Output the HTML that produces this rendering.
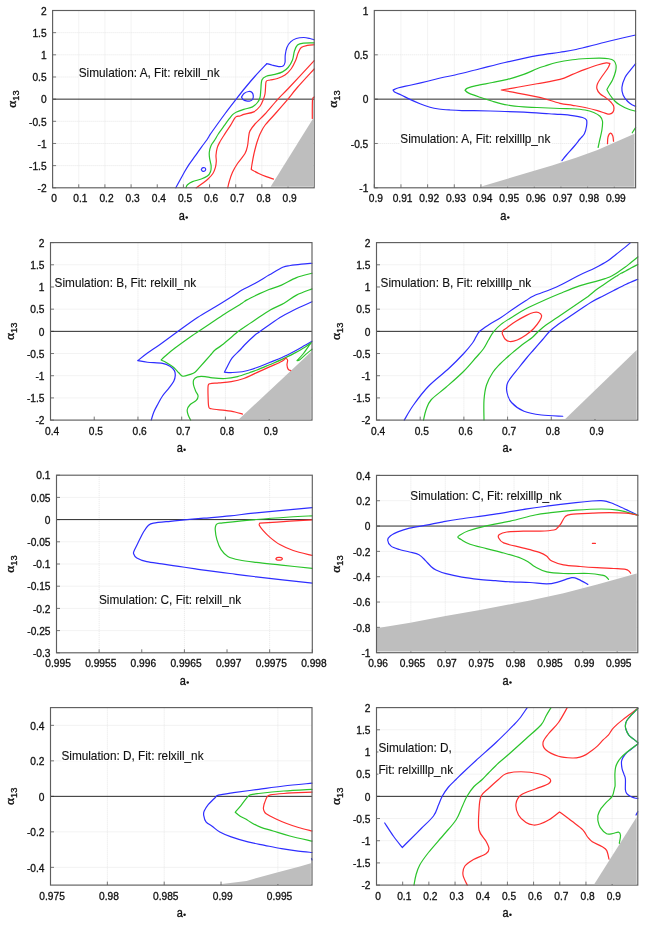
<!DOCTYPE html>
<html><head><meta charset="utf-8"><style>
html,body{margin:0;padding:0;background:#fff;}
svg{display:block;will-change:transform;}
text{font-family:"Liberation Sans",sans-serif;fill:#111;stroke:#111;stroke-width:0.3px;}
.tl{font-size:10.2px;}
.al{font-size:11px;}
.an{font-size:11.8px;stroke-width:0.12px;}
text .sf{font-family:"Liberation Serif",serif;}
.sfa{font-size:11px;}
.gr{stroke:#e6e6e6;stroke-width:1;stroke-dasharray:1 1;}
.zl{stroke:#2a2a2a;stroke-width:1;}
.tk{stroke:#777;stroke-width:1;}
.fr{fill:none;stroke:#5e5e5e;stroke-width:1.15;}
path{fill:none;stroke-width:1.2;stroke-linejoin:round;stroke-linecap:round;}
.cb{stroke:#2e2eff;} .cg{stroke:#2bc42b;} .cr{stroke:#ff2e2e;}
</style></head><body>
<svg width="656" height="928" viewBox="0 0 656 928">
<rect width="656" height="928" fill="#fff"/>
<line x1="78.76" y1="10.5" x2="78.76" y2="187.8" class="gr"/>
<line x1="104.92" y1="10.5" x2="104.92" y2="187.8" class="gr"/>
<line x1="131.08" y1="10.5" x2="131.08" y2="187.8" class="gr"/>
<line x1="183.4" y1="10.5" x2="183.4" y2="187.8" class="gr"/>
<line x1="209.56" y1="10.5" x2="209.56" y2="187.8" class="gr"/>
<line x1="235.72" y1="10.5" x2="235.72" y2="187.8" class="gr"/>
<line x1="261.88" y1="10.5" x2="261.88" y2="187.8" class="gr"/>
<line x1="288.04" y1="10.5" x2="288.04" y2="187.8" class="gr"/>
<line x1="52.6" y1="32.66" x2="314.2" y2="32.66" class="gr"/>
<line x1="52.6" y1="54.82" x2="314.2" y2="54.82" class="gr"/>
<line x1="52.6" y1="76.99" x2="314.2" y2="76.99" class="gr"/>
<line x1="52.6" y1="121.31" x2="314.2" y2="121.31" class="gr"/>
<line x1="52.6" y1="143.48" x2="314.2" y2="143.48" class="gr"/>
<line x1="52.6" y1="165.64" x2="314.2" y2="165.64" class="gr"/>
<line x1="52.6" y1="187.8" x2="52.6" y2="184.3" class="tk"/>
<line x1="78.76" y1="187.8" x2="78.76" y2="184.3" class="tk"/>
<line x1="104.92" y1="187.8" x2="104.92" y2="184.3" class="tk"/>
<line x1="131.08" y1="187.8" x2="131.08" y2="184.3" class="tk"/>
<line x1="157.24" y1="187.8" x2="157.24" y2="184.3" class="tk"/>
<line x1="183.4" y1="187.8" x2="183.4" y2="184.3" class="tk"/>
<line x1="209.56" y1="187.8" x2="209.56" y2="184.3" class="tk"/>
<line x1="235.72" y1="187.8" x2="235.72" y2="184.3" class="tk"/>
<line x1="261.88" y1="187.8" x2="261.88" y2="184.3" class="tk"/>
<line x1="288.04" y1="187.8" x2="288.04" y2="184.3" class="tk"/>
<line x1="52.6" y1="10.5" x2="56.1" y2="10.5" class="tk"/>
<line x1="52.6" y1="32.66" x2="56.1" y2="32.66" class="tk"/>
<line x1="52.6" y1="54.82" x2="56.1" y2="54.82" class="tk"/>
<line x1="52.6" y1="76.99" x2="56.1" y2="76.99" class="tk"/>
<line x1="52.6" y1="99.15" x2="56.1" y2="99.15" class="tk"/>
<line x1="52.6" y1="121.31" x2="56.1" y2="121.31" class="tk"/>
<line x1="52.6" y1="143.48" x2="56.1" y2="143.48" class="tk"/>
<line x1="52.6" y1="165.64" x2="56.1" y2="165.64" class="tk"/>
<line x1="52.6" y1="187.8" x2="56.1" y2="187.8" class="tk"/>
<rect x="78.7" y="75.3" width="141.3" height="2.6" fill="#fff"/>
<polygon points="270.6,186.7 313.1,118.5 313.1,186.7" fill="#bebebe"/>
<line x1="52.6" y1="99.15" x2="314.2" y2="99.15" class="zl"/>
<path d="M175.8,187.8 C176.6,186.33 179.18,181.58 180.6,179 C182.02,176.42 182.88,174.73 184.3,172.3 C185.72,169.87 187.28,167.13 189.1,164.4 C190.92,161.67 193.17,158.75 195.2,155.9 C197.23,153.05 199.37,149.95 201.3,147.3 C203.23,144.65 205.48,141.88 206.8,140 C208.12,138.12 208.3,137.42 209.2,136 C210.1,134.58 209.57,135.21 212.2,131.5 C214.83,127.79 220.99,119.15 225,113.75 C229.01,108.35 232.92,103.39 236.25,99.1 C239.58,94.81 241.88,91.81 245,88 C248.12,84.19 251.35,80.33 255,76.25 C258.65,72.17 264.92,65.62 266.9,63.5 C267.83,63.79 270.52,64.73 272.5,65.25 C274.48,65.77 276.98,66.47 278.75,66.6 C280.52,66.72 282.06,66.68 283.1,66 C284.14,65.32 284.64,64.33 285,62.5 C285.36,60.67 284.93,57.5 285.25,55 C285.57,52.5 286.01,49.68 286.9,47.5 C287.79,45.32 289.04,43.4 290.6,41.9 C292.16,40.4 294.06,39.23 296.25,38.5 C298.44,37.77 301.46,37.5 303.75,37.5 C306.04,37.5 308.26,38.12 310,38.5 C311.74,38.88 313.5,39.54 314.2,39.75" class="cb"/>
<path d="M241.5,97.1 C241.92,96.5 242.79,94.43 244,93.5 C245.21,92.57 247.42,91.67 248.75,91.5 C250.08,91.33 251.24,91.77 252,92.5 C252.76,93.23 253.22,94.73 253.3,95.9 C253.38,97.07 253.05,98.65 252.5,99.5 C251.95,100.35 251.04,100.77 250,101 C248.96,101.23 247.42,101.15 246.25,100.9 C245.08,100.65 243.79,100.13 243,99.5 C242.21,98.87 241.75,97.5 241.5,97.1" class="cb"/>
<path d="M201.3,169.6 C201.5,169.32 201.95,168.2 202.5,167.9 C203.05,167.6 204.07,167.58 204.6,167.8 C205.13,168.02 205.68,168.67 205.7,169.2 C205.72,169.73 205.23,170.68 204.7,171 C204.17,171.32 203.07,171.33 202.5,171.1 C201.93,170.87 201.5,169.85 201.3,169.6" class="cb"/>
<path d="M186,187.8 C186.25,187.29 186.42,185.78 187.5,184.75 C188.58,183.72 190.2,182.56 192.5,181.6 C194.8,180.64 198.82,179.93 201.3,179 C203.78,178.07 205.87,177.22 207.4,176 C208.93,174.78 209.88,173.43 210.5,171.7 C211.12,169.97 211.25,167.83 211.1,165.6 C210.95,163.37 209.9,160.53 209.6,158.3 C209.3,156.07 209.05,154.33 209.3,152.2 C209.55,150.07 210.19,147.53 211.1,145.5 C212.01,143.47 213.55,141.92 214.75,140 C215.95,138.08 216.69,136.43 218.3,134 C219.91,131.57 222.57,127.95 224.4,125.4 C226.23,122.85 227.88,120.53 229.3,118.7 C230.72,116.87 231.68,115.52 232.9,114.4 C234.12,113.28 234.79,112.83 236.6,112 C238.41,111.17 241.1,110.25 243.75,109.4 C246.4,108.55 250.21,108.05 252.5,106.9 C254.79,105.75 256.25,104.07 257.5,102.5 C258.75,100.93 259.45,99.58 260,97.5 C260.55,95.42 260.48,92.92 260.8,90 C261.12,87.08 260.99,82.29 261.9,80 C262.81,77.71 264.07,77.18 266.25,76.25 C268.43,75.32 272.29,75.12 275,74.4 C277.71,73.68 280.32,73.05 282.5,71.9 C284.68,70.75 286.43,69.48 288.1,67.5 C289.77,65.52 291.45,62.71 292.5,60 C293.55,57.29 293.57,53.75 294.4,51.25 C295.23,48.75 295.94,46.36 297.5,45 C299.06,43.64 300.97,43.45 303.75,43.1 C306.53,42.75 312.46,42.93 314.2,42.9" class="cg"/>
<path d="M196.25,187.8 C197.38,187 201.04,184.47 203,183 C204.96,181.53 206.35,180.58 208,179 C209.65,177.42 211.67,175.43 212.9,173.5 C214.13,171.57 214.83,169.43 215.4,167.4 C215.97,165.37 216.2,163.33 216.3,161.3 C216.4,159.27 215.85,157.43 216,155.2 C216.15,152.97 216.6,150.03 217.2,147.9 C217.8,145.77 218.4,144.62 219.6,142.4 C220.8,140.18 222.58,137.43 224.4,134.6 C226.22,131.77 228.78,128.15 230.5,125.4 C232.22,122.65 233.67,119.6 234.75,118.1 C235.83,116.6 236.12,116.75 237,116.4 C237.88,116.05 238.88,116.33 240,116 C241.12,115.67 241.46,115.08 243.75,114.4 C246.04,113.72 251.04,113.26 253.75,111.9 C256.46,110.54 258.44,108.23 260,106.25 C261.56,104.27 262.27,102.04 263.1,100 C263.93,97.96 264.6,96 265,94 C265.4,92 265.29,90.12 265.5,88 C265.71,85.88 265.5,82.58 266.25,81.25 C267,79.92 268.12,80.46 270,80 C271.88,79.54 275,79.33 277.5,78.5 C280,77.67 282.71,76.62 285,75 C287.29,73.38 289.48,71.15 291.25,68.75 C293.02,66.35 294.46,63.21 295.6,60.6 C296.74,57.99 297.16,55.28 298.1,53.1 C299.04,50.92 299.68,48.78 301.25,47.5 C302.82,46.22 305.34,45.86 307.5,45.4 C309.66,44.94 313.08,44.86 314.2,44.75" class="cr"/>
<path d="M227.75,187.8 C228.03,186.67 228.61,183.59 229.4,181 C230.19,178.41 231.15,175.17 232.5,172.25 C233.85,169.33 235.42,166.62 237.5,163.5 C239.58,160.38 243.33,156.42 245,153.5 C246.67,150.58 246.88,148.92 247.5,146 C248.12,143.08 248.33,138.52 248.75,136 C249.17,133.48 248.96,132.9 250,130.9 C251.04,128.9 252.5,126.82 255,124 C257.5,121.18 261.25,118.07 265,114 C268.75,109.93 273.54,103.93 277.5,99.6 C281.46,95.27 282.63,94.5 288.75,88 C294.87,81.5 309.96,65.17 314.2,60.6" class="cr"/>
<path d="M273.5,179.1 C272.29,178.68 268.71,177.53 266.25,176.6 C263.79,175.67 261.25,174.68 258.75,173.5 C256.25,172.32 252.5,170.17 251.25,169.5 C251.36,168.71 251.48,167.21 251.9,164.75 C252.32,162.29 253.03,158.08 253.75,154.75 C254.47,151.42 255.53,147.38 256.25,144.75 C256.98,142.12 257.38,141 258.1,139 C258.83,137 259.45,135.04 260.6,132.75 C261.75,130.46 262.6,128.38 265,125.25 C267.4,122.12 271.25,118.28 275,114 C278.75,109.72 283.85,103.93 287.5,99.6 C291.15,95.27 292.45,93.1 296.9,88 C301.35,82.9 311.32,72.17 314.2,69" class="cr"/>
<path d="M314.2,97 C313.92,97.5 312.82,96.43 312.5,100 C312.18,103.57 312.33,115.33 312.3,118.4" class="cr"/>
<text x="54.2" y="202.2" class="tl" text-anchor="middle">0</text>
<text x="80.36" y="202.2" class="tl" text-anchor="middle">0.1</text>
<text x="106.52" y="202.2" class="tl" text-anchor="middle">0.2</text>
<text x="132.68" y="202.2" class="tl" text-anchor="middle">0.3</text>
<text x="158.84" y="202.2" class="tl" text-anchor="middle">0.4</text>
<text x="185" y="202.2" class="tl" text-anchor="middle">0.5</text>
<text x="211.16" y="202.2" class="tl" text-anchor="middle">0.6</text>
<text x="237.32" y="202.2" class="tl" text-anchor="middle">0.7</text>
<text x="263.48" y="202.2" class="tl" text-anchor="middle">0.8</text>
<text x="289.64" y="202.2" class="tl" text-anchor="middle">0.9</text>
<text x="46.6" y="14.7" class="tl" text-anchor="end">2</text>
<text x="46.6" y="36.86" class="tl" text-anchor="end">1.5</text>
<text x="46.6" y="59.02" class="tl" text-anchor="end">1</text>
<text x="46.6" y="81.19" class="tl" text-anchor="end">0.5</text>
<text x="46.6" y="103.35" class="tl" text-anchor="end">0</text>
<text x="46.6" y="125.51" class="tl" text-anchor="end">-0.5</text>
<text x="46.6" y="147.68" class="tl" text-anchor="end">-1</text>
<text x="46.6" y="169.84" class="tl" text-anchor="end">-1.5</text>
<text x="46.6" y="192" class="tl" text-anchor="end">-2</text>
<rect x="52.6" y="10.5" width="261.6" height="177.3" class="fr"/>
<text transform="translate(78.7,76.6) scale(1,1.1)" class="an">Simulation: A, Fit: relxill_nk</text>
<text transform="translate(178.8,220.1) scale(1,1.12)" class="al sfa">a</text>
<circle cx="186.7" cy="217.5" r="1.25" fill="#111"/>
<text transform="translate(15.8,99.15) rotate(-90)" class="al" text-anchor="middle"><tspan font-size="13.5" class="sf">&#945;</tspan><tspan font-size="9.3" dy="3.3">13</tspan></text>
<line x1="400.96" y1="10.5" x2="400.96" y2="187.8" class="gr"/>
<line x1="427.63" y1="10.5" x2="427.63" y2="187.8" class="gr"/>
<line x1="454.29" y1="10.5" x2="454.29" y2="187.8" class="gr"/>
<line x1="480.95" y1="10.5" x2="480.95" y2="187.8" class="gr"/>
<line x1="507.62" y1="10.5" x2="507.62" y2="187.8" class="gr"/>
<line x1="534.28" y1="10.5" x2="534.28" y2="187.8" class="gr"/>
<line x1="560.94" y1="10.5" x2="560.94" y2="187.8" class="gr"/>
<line x1="587.61" y1="10.5" x2="587.61" y2="187.8" class="gr"/>
<line x1="614.27" y1="10.5" x2="614.27" y2="187.8" class="gr"/>
<line x1="374.3" y1="54.82" x2="635.6" y2="54.82" class="gr"/>
<line x1="374.3" y1="143.48" x2="635.6" y2="143.48" class="gr"/>
<line x1="374.3" y1="187.8" x2="374.3" y2="184.3" class="tk"/>
<line x1="400.96" y1="187.8" x2="400.96" y2="184.3" class="tk"/>
<line x1="427.63" y1="187.8" x2="427.63" y2="184.3" class="tk"/>
<line x1="454.29" y1="187.8" x2="454.29" y2="184.3" class="tk"/>
<line x1="480.95" y1="187.8" x2="480.95" y2="184.3" class="tk"/>
<line x1="507.62" y1="187.8" x2="507.62" y2="184.3" class="tk"/>
<line x1="534.28" y1="187.8" x2="534.28" y2="184.3" class="tk"/>
<line x1="560.94" y1="187.8" x2="560.94" y2="184.3" class="tk"/>
<line x1="587.61" y1="187.8" x2="587.61" y2="184.3" class="tk"/>
<line x1="614.27" y1="187.8" x2="614.27" y2="184.3" class="tk"/>
<line x1="374.3" y1="10.5" x2="377.8" y2="10.5" class="tk"/>
<line x1="374.3" y1="54.82" x2="377.8" y2="54.82" class="tk"/>
<line x1="374.3" y1="99.15" x2="377.8" y2="99.15" class="tk"/>
<line x1="374.3" y1="143.48" x2="377.8" y2="143.48" class="tk"/>
<line x1="374.3" y1="187.8" x2="377.8" y2="187.8" class="tk"/>
<rect x="400.3" y="141.9" width="151.2" height="2.6" fill="#fff"/>
<polygon points="480.6,186.7 507.5,178.75 535,170.6 552,165.6 576,157.8 597.5,150 616.25,141.8 634.5,133.75 634.5,186.7" fill="#bebebe"/>
<line x1="374.3" y1="99.15" x2="635.6" y2="99.15" class="zl"/>
<path d="M562,160.5 C562.75,159.58 564.5,157.33 566.5,155 C568.5,152.67 571.75,149.17 574,146.5 C576.25,143.83 578.27,141.12 580,139 C581.73,136.88 583.32,135.88 584.4,133.75 C585.48,131.62 586.15,128.54 586.5,126.25 C586.85,123.96 587.17,121.46 586.5,120 C585.83,118.54 584.83,118.23 582.5,117.5 C580.17,116.77 576.25,116.12 572.5,115.6 C568.75,115.08 563.92,114.71 560,114.4 C556.08,114.09 555,114.12 549,113.75 C543,113.38 532.33,112.62 524,112.2 C515.67,111.78 507.33,111.5 499,111.25 C490.67,111 480.17,110.81 474,110.7 C467.83,110.59 466,110.72 462,110.6 C458,110.48 453.88,110.27 450,110 C446.12,109.73 442.08,109.46 438.75,109 C435.42,108.54 433.12,108.12 430,107.25 C426.88,106.38 423.33,105.06 420,103.75 C416.67,102.44 413.12,100.86 410,99.4 C406.88,97.94 403.75,96.19 401.25,95 C398.75,93.81 396.36,93.08 395,92.25 C393.64,91.42 393.42,90.38 393.1,90 C394.04,89.62 395.73,88.58 398.75,87.75 C401.77,86.92 406.46,86.08 411.25,85 C416.04,83.92 422.29,82.5 427.5,81.25 C432.71,80 437.92,78.54 442.5,77.5 C447.08,76.46 448.75,76.46 455,75 C461.25,73.54 471.67,70.83 480,68.75 C488.33,66.67 495.5,64.69 505,62.5 C514.5,60.31 527.83,57.31 537,55.6 C546.17,53.89 553.5,53.27 560,52.25 C566.5,51.23 569.5,50.92 576,49.5 C582.5,48.08 592.67,45.33 599,43.75 C605.33,42.17 607.9,41.46 614,40 C620.1,38.54 632,35.83 635.6,35" class="cb"/>
<path d="M635.6,63.75 C634.67,64.89 631.77,68.31 630,70.6 C628.23,72.89 626.35,74.68 625,77.5 C623.65,80.32 622.22,84.58 621.9,87.5 C621.58,90.42 622.17,92.71 623.1,95 C624.03,97.29 625.93,99.58 627.5,101.25 C629.07,102.92 631.15,104.17 632.5,105 C633.85,105.83 635.08,106.04 635.6,106.25" class="cb"/>
<path d="M598.1,147.5 C598.42,146.04 599.37,141.67 600,138.75 C600.63,135.83 601.48,132.92 601.9,130 C602.32,127.08 602.82,123.54 602.5,121.25 C602.18,118.96 601.46,117.71 600,116.25 C598.54,114.79 596.25,113.54 593.75,112.5 C591.25,111.46 588.54,110.62 585,110 C581.46,109.38 576.67,109 572.5,108.75 C568.33,108.5 565.92,108.71 560,108.5 C554.08,108.29 543.04,107.77 537,107.5 C530.96,107.23 528.67,107.32 523.75,106.9 C518.83,106.48 512.71,105.94 507.5,105 C502.29,104.06 497.08,102.54 492.5,101.25 C487.92,99.96 483.96,98.61 480,97.25 C476.04,95.89 471.25,94.27 468.75,93.1 C466.25,91.93 465.62,90.72 465,90.25 C465.42,89.89 465.62,88.88 467.5,88.1 C469.38,87.32 472.08,86.53 476.25,85.6 C480.42,84.67 487.29,83.53 492.5,82.5 C497.71,81.47 502.29,80.75 507.5,79.4 C512.71,78.05 518.83,76.18 523.75,74.4 C528.67,72.62 533.46,70.15 537,68.75 C540.54,67.35 541.75,67.04 545,66 C548.25,64.96 551.92,63.54 556.5,62.5 C561.08,61.46 567.33,60.42 572.5,59.75 C577.67,59.08 582.92,58.77 587.5,58.5 C592.08,58.23 596.46,58.06 600,58.1 C603.54,58.14 606.46,58.33 608.75,58.75 C611.04,59.17 612.54,59.56 613.75,60.6 C614.96,61.64 615.69,63.23 616,65 C616.31,66.78 616.18,68.75 615.6,71.25 C615.02,73.75 613.64,77.5 612.5,80 C611.36,82.5 609.68,84.62 608.75,86.25 C607.82,87.88 607.21,89.17 606.9,89.75 C607.42,90.62 608.65,93.08 610,95 C611.35,96.92 613.33,99.58 615,101.25 C616.67,102.92 617.92,103.75 620,105 C622.08,106.25 624.9,107.71 627.5,108.75 C630.1,109.79 634.25,110.83 635.6,111.25" class="cg"/>
<path d="M632.25,132.75 C632.81,131.88 635.04,128.38 635.6,127.5" class="cg"/>
<path d="M501.25,90 C503.96,89.54 511.54,88.29 517.5,87.25 C523.46,86.21 529.92,85.06 537,83.75 C544.08,82.44 554.08,80.96 560,79.4 C565.92,77.84 568.33,76.07 572.5,74.4 C576.67,72.73 580.83,70.97 585,69.4 C589.17,67.83 593.96,66.08 597.5,65 C601.04,63.92 604.17,63.15 606.25,62.9 C608.33,62.65 609.38,63.4 610,63.5 C609.58,64.38 608.96,66.42 607.5,68.75 C606.04,71.08 602.92,75 601.25,77.5 C599.58,80 598.23,81.88 597.5,83.75 C596.77,85.62 596.48,87.08 596.9,88.75 C597.32,90.42 598.44,92.19 600,93.75 C601.56,95.31 604.38,96.64 606.25,98.1 C608.12,99.56 610,101.1 611.25,102.5 C612.5,103.9 613.44,104.93 613.75,106.5 C614.06,108.07 613.83,110.63 613.1,111.9 C612.38,113.17 610.75,113.9 609.4,114.1 C608.05,114.3 606.98,113.68 605,113.1 C603.02,112.52 600.83,111.53 597.5,110.6 C594.17,109.67 589.17,108.38 585,107.5 C580.83,106.62 576.67,106 572.5,105.3 C568.33,104.6 564.75,104.43 560,103.3 C555.25,102.17 547.83,99.57 544,98.5 C540.17,97.43 541.42,97.8 537,96.9 C532.58,96 523.46,94.25 517.5,93.1 C511.54,91.95 503.96,90.52 501.25,90" class="cr"/>
<path d="M607.5,143.75 C607.58,142.62 607.5,138.78 608,137 C608.5,135.22 609.7,133.27 610.5,133.1 C611.3,132.93 612.3,134.64 612.8,136 C613.3,137.36 613.38,140.38 613.5,141.25" class="cr"/>
<text x="375.9" y="202.2" class="tl" text-anchor="middle">0.9</text>
<text x="402.56" y="202.2" class="tl" text-anchor="middle">0.91</text>
<text x="429.23" y="202.2" class="tl" text-anchor="middle">0.92</text>
<text x="455.89" y="202.2" class="tl" text-anchor="middle">0.93</text>
<text x="482.55" y="202.2" class="tl" text-anchor="middle">0.94</text>
<text x="509.22" y="202.2" class="tl" text-anchor="middle">0.95</text>
<text x="535.88" y="202.2" class="tl" text-anchor="middle">0.96</text>
<text x="562.54" y="202.2" class="tl" text-anchor="middle">0.97</text>
<text x="589.21" y="202.2" class="tl" text-anchor="middle">0.98</text>
<text x="615.87" y="202.2" class="tl" text-anchor="middle">0.99</text>
<text x="368.3" y="14.7" class="tl" text-anchor="end">1</text>
<text x="368.3" y="59.02" class="tl" text-anchor="end">0.5</text>
<text x="368.3" y="103.35" class="tl" text-anchor="end">0</text>
<text x="368.3" y="147.68" class="tl" text-anchor="end">-0.5</text>
<text x="368.3" y="192" class="tl" text-anchor="end">-1</text>
<rect x="374.3" y="10.5" width="261.3" height="177.3" class="fr"/>
<text transform="translate(400.3,143.2) scale(1,1.1)" class="an">Simulation: A, Fit: relxilllp_nk</text>
<text transform="translate(500.35,220.1) scale(1,1.12)" class="al sfa">a</text>
<circle cx="508.25" cy="217.5" r="1.25" fill="#111"/>
<text transform="translate(336.9,99.15) rotate(-90)" class="al" text-anchor="middle"><tspan font-size="13.5" class="sf">&#945;</tspan><tspan font-size="9.3" dy="3.3">13</tspan></text>
<line x1="137.96" y1="242.6" x2="137.96" y2="420.1" class="gr"/>
<line x1="181.69" y1="242.6" x2="181.69" y2="420.1" class="gr"/>
<line x1="225.42" y1="242.6" x2="225.42" y2="420.1" class="gr"/>
<line x1="269.15" y1="242.6" x2="269.15" y2="420.1" class="gr"/>
<line x1="50.5" y1="264.79" x2="312" y2="264.79" class="gr"/>
<line x1="50.5" y1="286.98" x2="312" y2="286.98" class="gr"/>
<line x1="50.5" y1="309.16" x2="312" y2="309.16" class="gr"/>
<line x1="50.5" y1="353.54" x2="312" y2="353.54" class="gr"/>
<line x1="50.5" y1="375.73" x2="312" y2="375.73" class="gr"/>
<line x1="50.5" y1="397.91" x2="312" y2="397.91" class="gr"/>
<line x1="50.5" y1="420.1" x2="50.5" y2="416.6" class="tk"/>
<line x1="94.23" y1="420.1" x2="94.23" y2="416.6" class="tk"/>
<line x1="137.96" y1="420.1" x2="137.96" y2="416.6" class="tk"/>
<line x1="181.69" y1="420.1" x2="181.69" y2="416.6" class="tk"/>
<line x1="225.42" y1="420.1" x2="225.42" y2="416.6" class="tk"/>
<line x1="269.15" y1="420.1" x2="269.15" y2="416.6" class="tk"/>
<line x1="50.5" y1="242.6" x2="54" y2="242.6" class="tk"/>
<line x1="50.5" y1="264.79" x2="54" y2="264.79" class="tk"/>
<line x1="50.5" y1="286.98" x2="54" y2="286.98" class="tk"/>
<line x1="50.5" y1="309.16" x2="54" y2="309.16" class="tk"/>
<line x1="50.5" y1="331.35" x2="54" y2="331.35" class="tk"/>
<line x1="50.5" y1="353.54" x2="54" y2="353.54" class="tk"/>
<line x1="50.5" y1="375.73" x2="54" y2="375.73" class="tk"/>
<line x1="50.5" y1="397.91" x2="54" y2="397.91" class="tk"/>
<line x1="50.5" y1="420.1" x2="54" y2="420.1" class="tk"/>
<rect x="54.6" y="285.8" width="141.9" height="2.6" fill="#fff"/>
<polygon points="239.2,419 310.9,352 310.9,419" fill="#bebebe"/>
<line x1="50.5" y1="331.35" x2="312" y2="331.35" class="zl"/>
<path d="M151.25,420.1 C151.67,418.79 152.71,414.81 153.75,412.25 C154.79,409.69 156.04,407.46 157.5,404.75 C158.96,402.04 160.62,398.74 162.5,396 C164.38,393.26 166.88,390.76 168.75,388.3 C170.62,385.84 172.67,383.37 173.75,381.25 C174.83,379.13 175.14,377.38 175.25,375.6 C175.36,373.83 175.28,372.16 174.4,370.6 C173.53,369.04 171.98,367.47 170,366.25 C168.02,365.03 166.25,363.97 162.5,363.3 C158.75,362.63 151.62,362.7 147.5,362.25 C143.38,361.8 139.38,360.88 137.75,360.6 C139.38,359.35 143.79,355.8 147.5,353.1 C151.21,350.4 154.9,348.04 160,344.4 C165.1,340.76 171.85,335.73 178.1,331.25 C184.35,326.77 191.14,321.67 197.5,317.5 C203.86,313.33 210.17,309.97 216.25,306.25 C222.33,302.53 229.71,297.89 234,295.2 C238.29,292.51 238.46,292.09 242,290.1 C245.54,288.11 250.75,285.75 255.25,283.25 C259.75,280.75 264.42,277.77 269,275.1 C273.58,272.43 279.21,268.85 282.75,267.25 C286.29,265.65 287.12,266.02 290.25,265.5 C293.38,264.98 297.88,264.48 301.5,264.1 C305.12,263.73 310.25,263.39 312,263.25" class="cb"/>
<path d="M312,273.25 C309.42,273.98 301.58,275.62 296.5,277.6 C291.42,279.58 286.08,283.12 281.5,285.1 C276.92,287.08 272.75,288.03 269,289.5 C265.25,290.97 262.75,292.13 259,293.9 C255.25,295.67 249.33,298.55 246.5,300.1 C243.67,301.65 245.58,300.93 242,303.2 C238.42,305.47 230.33,310.32 225,313.75 C219.67,317.18 214.38,320.83 210,323.75 C205.62,326.67 201.75,329.24 198.75,331.25 C195.75,333.26 195.96,332.99 192,335.8 C188.04,338.61 179.5,344.69 175,348.1 C170.5,351.51 167.3,354.27 165,356.25 C162.7,358.23 161.83,359.38 161.2,360 C162.04,360.42 164.16,361.25 166.25,362.5 C168.34,363.75 171.67,365.79 173.75,367.5 C175.83,369.21 177.24,371.29 178.75,372.75 C180.26,374.21 180.93,375.98 182.8,376.25 C184.68,376.52 187.97,375.07 190,374.4 C192.03,373.73 193.33,373.5 195,372.25 C196.67,371 197.5,369.67 200,366.9 C202.5,364.12 207.5,358.42 210,355.6 C212.5,352.78 213,351.77 215,350 C217,348.23 218.1,348.12 222,345 C225.9,341.88 235.07,334.01 238.4,331.3 C241.73,328.59 239.23,330.63 242,328.75 C244.77,326.87 250.29,323.12 255,320 C259.71,316.88 265.42,312.79 270.25,310 C275.08,307.21 279.62,305.73 284,303.25 C288.38,300.77 291.83,297.49 296.5,295.1 C301.17,292.71 309.42,289.93 312,288.9" class="cg"/>
<path d="M312,301.75 C309,303.12 299.33,307.38 294,310 C288.67,312.62 285.67,313.92 280,317.5 C274.33,321.08 264.17,328.58 260,331.5 C255.83,334.42 257.58,332.75 255,335 C252.42,337.25 247,342.5 244.5,345 C242,347.5 242.08,347.82 240,350 C237.92,352.18 234.08,355.39 232,358.1 C229.92,360.81 228.77,363.89 227.5,366.25 C226.23,368.61 224.92,371.25 224.4,372.25 C225.75,372.29 229.15,372.67 232.5,372.5 C235.85,372.33 240.42,372.08 244.5,371.25 C248.58,370.42 252.83,368.96 257,367.5 C261.17,366.04 265.33,364.17 269.5,362.5 C273.67,360.83 277.83,359.38 282,357.5 C286.17,355.62 290.75,353.23 294.5,351.25 C298.25,349.27 301.58,347.27 304.5,345.6 C307.42,343.93 310.75,341.98 312,341.25" class="cb"/>
<path d="M190.6,420.1 C190.18,419.21 188.66,416.48 188.1,414.75 C187.54,413.02 186.93,411.42 187.25,409.75 C187.57,408.08 188.5,406.31 190,404.75 C191.5,403.19 194.9,401.86 196.25,400.4 C197.6,398.94 198.21,397.57 198.1,396 C197.99,394.43 196.37,392.88 195.6,391 C194.83,389.12 193.81,386.62 193.5,384.75 C193.19,382.88 193.08,381.07 193.75,379.75 C194.42,378.43 195.62,377.32 197.5,376.8 C199.38,376.28 202.5,376.42 205,376.6 C207.5,376.78 209.17,377.58 212.5,377.9 C215.83,378.22 220.83,378.72 225,378.5 C229.17,378.28 233.33,377.6 237.5,376.6 C241.67,375.6 246.75,373.6 250,372.5 C253.25,371.4 253.75,371.29 257,370 C260.25,368.71 265.33,366.52 269.5,364.75 C273.67,362.98 277.83,361.34 282,359.4 C286.17,357.46 290.75,355.08 294.5,353.1 C298.25,351.12 301.68,349.27 304.5,347.5 C307.32,345.73 310.25,343.33 311.4,342.5 C311.08,342.92 310.86,343.12 309.5,345 C308.14,346.88 305.33,351.15 303.25,353.75 C301.17,356.35 298.04,359.46 297,360.6 C297.42,360.5 298.04,361.03 299.5,360 C300.96,358.97 303.67,356.2 305.75,354.4 C307.83,352.6 310.96,350.07 312,349.2" class="cg"/>
<path d="M242.5,414.1 C241.25,413.75 237.92,412.62 235,412 C232.08,411.38 228.96,410.94 225,410.4 C221.04,409.86 213.96,409.38 211.25,408.75 C208.54,408.12 209.28,408.52 208.75,406.6 C208.22,404.68 208.21,400.68 208.1,397.25 C207.99,393.82 207.78,388.25 208.1,386 C208.42,383.75 208.22,384.27 210,383.75 C211.78,383.23 215.21,383.26 218.75,382.9 C222.29,382.54 227.08,382.33 231.25,381.6 C235.42,380.87 239.58,379.95 243.75,378.5 C247.92,377.05 251.96,374.83 256.25,372.9 C260.54,370.97 265.21,368.84 269.5,366.9 C273.79,364.96 279.29,362.72 282,361.25 C284.71,359.78 285.12,358.62 285.75,358.1 C286.06,358.42 287.39,358.85 287.6,360 C287.81,361.15 286.89,363.43 287,365 C287.11,366.57 287.62,368.47 288.25,369.4 C288.88,370.33 290.33,370.4 290.75,370.6" class="cr"/>
<text x="52.1" y="434.5" class="tl" text-anchor="middle">0.4</text>
<text x="95.83" y="434.5" class="tl" text-anchor="middle">0.5</text>
<text x="139.56" y="434.5" class="tl" text-anchor="middle">0.6</text>
<text x="183.29" y="434.5" class="tl" text-anchor="middle">0.7</text>
<text x="227.02" y="434.5" class="tl" text-anchor="middle">0.8</text>
<text x="270.75" y="434.5" class="tl" text-anchor="middle">0.9</text>
<text x="44.5" y="246.8" class="tl" text-anchor="end">2</text>
<text x="44.5" y="268.99" class="tl" text-anchor="end">1.5</text>
<text x="44.5" y="291.18" class="tl" text-anchor="end">1</text>
<text x="44.5" y="313.36" class="tl" text-anchor="end">0.5</text>
<text x="44.5" y="335.55" class="tl" text-anchor="end">0</text>
<text x="44.5" y="357.74" class="tl" text-anchor="end">-0.5</text>
<text x="44.5" y="379.93" class="tl" text-anchor="end">-1</text>
<text x="44.5" y="402.11" class="tl" text-anchor="end">-1.5</text>
<text x="44.5" y="424.3" class="tl" text-anchor="end">-2</text>
<rect x="50.5" y="242.6" width="261.5" height="177.5" class="fr"/>
<text transform="translate(54.6,287.1) scale(1,1.1)" class="an">Simulation: B, Fit: relxill_nk</text>
<text transform="translate(176.65,452.4) scale(1,1.12)" class="al sfa">a</text>
<circle cx="184.55" cy="449.8" r="1.25" fill="#111"/>
<text transform="translate(13.7,331.35) rotate(-90)" class="al" text-anchor="middle"><tspan font-size="13.5" class="sf">&#945;</tspan><tspan font-size="9.3" dy="3.3">13</tspan></text>
<line x1="420.2" y1="242.6" x2="420.2" y2="420.1" class="gr"/>
<line x1="463.89" y1="242.6" x2="463.89" y2="420.1" class="gr"/>
<line x1="507.59" y1="242.6" x2="507.59" y2="420.1" class="gr"/>
<line x1="551.28" y1="242.6" x2="551.28" y2="420.1" class="gr"/>
<line x1="594.98" y1="242.6" x2="594.98" y2="420.1" class="gr"/>
<line x1="376.5" y1="264.79" x2="637.8" y2="264.79" class="gr"/>
<line x1="376.5" y1="286.98" x2="637.8" y2="286.98" class="gr"/>
<line x1="376.5" y1="309.16" x2="637.8" y2="309.16" class="gr"/>
<line x1="376.5" y1="353.54" x2="637.8" y2="353.54" class="gr"/>
<line x1="376.5" y1="375.73" x2="637.8" y2="375.73" class="gr"/>
<line x1="376.5" y1="397.91" x2="637.8" y2="397.91" class="gr"/>
<line x1="376.5" y1="420.1" x2="376.5" y2="416.6" class="tk"/>
<line x1="420.2" y1="420.1" x2="420.2" y2="416.6" class="tk"/>
<line x1="463.89" y1="420.1" x2="463.89" y2="416.6" class="tk"/>
<line x1="507.59" y1="420.1" x2="507.59" y2="416.6" class="tk"/>
<line x1="551.28" y1="420.1" x2="551.28" y2="416.6" class="tk"/>
<line x1="594.98" y1="420.1" x2="594.98" y2="416.6" class="tk"/>
<line x1="376.5" y1="242.6" x2="380" y2="242.6" class="tk"/>
<line x1="376.5" y1="264.79" x2="380" y2="264.79" class="tk"/>
<line x1="376.5" y1="286.98" x2="380" y2="286.98" class="tk"/>
<line x1="376.5" y1="309.16" x2="380" y2="309.16" class="tk"/>
<line x1="376.5" y1="331.35" x2="380" y2="331.35" class="tk"/>
<line x1="376.5" y1="353.54" x2="380" y2="353.54" class="tk"/>
<line x1="376.5" y1="375.73" x2="380" y2="375.73" class="tk"/>
<line x1="376.5" y1="397.91" x2="380" y2="397.91" class="tk"/>
<line x1="376.5" y1="420.1" x2="380" y2="420.1" class="tk"/>
<rect x="380.6" y="285.7" width="150.9" height="2.6" fill="#fff"/>
<polygon points="565.25,419 636.7,350 636.7,419" fill="#bebebe"/>
<line x1="376.5" y1="331.35" x2="637.8" y2="331.35" class="zl"/>
<path d="M404.25,420.1 C405.79,417.58 409.46,410.64 413.5,405 C417.54,399.36 422.67,392.29 428.5,386.25 C434.33,380.21 442.67,374.17 448.5,368.75 C454.33,363.33 459.5,358.04 463.5,353.75 C467.5,349.46 470.42,345.81 472.5,343 C474.58,340.19 474.79,338.86 476,336.9 C477.21,334.94 477.67,333.23 479.75,331.25 C481.83,329.27 484.96,327.29 488.5,325 C492.04,322.71 496.83,320.21 501,317.5 C505.17,314.79 509.33,311.57 513.5,308.75 C517.67,305.93 522.58,302.77 526,300.6 C529.42,298.43 528.92,298.02 534,295.75 C539.08,293.48 549.04,290.38 556.5,287 C563.96,283.62 572.33,278.67 578.75,275.5 C585.17,272.33 590.21,270.4 595,268 C599.79,265.6 603.96,263.39 607.5,261.1 C611.04,258.81 613.33,256.53 616.25,254.25 C619.17,251.97 622.61,249.34 625,247.4 C627.39,245.46 629.67,243.4 630.6,242.6" class="cb"/>
<path d="M423.5,420.1 C423.92,418.42 424.75,413.35 426,410 C427.25,406.65 427.67,403.78 431,400 C434.33,396.22 440.58,392.05 446,387.3 C451.42,382.55 458.5,376.47 463.5,371.5 C468.5,366.53 472.67,361.29 476,357.5 C479.33,353.71 481.42,351.67 483.5,348.75 C485.58,345.83 486.83,342.81 488.5,340 C490.17,337.19 491.42,334.5 493.5,331.9 C495.58,329.3 497.67,327.01 501,324.4 C504.33,321.79 509.33,318.86 513.5,316.25 C517.67,313.64 520.79,311.46 526,308.75 C531.21,306.04 539.08,302.54 544.75,300 C550.42,297.46 554.33,295.82 560,293.5 C565.67,291.18 572.75,288.13 578.75,286.1 C584.75,284.07 591.61,282.55 596,281.3 C600.39,280.05 602.82,279.32 605.1,278.6 C607.38,277.88 608.17,277.68 609.7,277 C611.23,276.32 612.77,275.42 614.3,274.5 C615.83,273.58 617.07,272.73 618.9,271.5 C620.73,270.27 623.28,268.6 625.3,267.1 C627.32,265.6 628.92,264.18 631,262.5 C633.08,260.82 636.67,257.92 637.8,257" class="cg"/>
<path d="M484,420.1 C484,416.75 483.58,405.85 484,400 C484.42,394.15 485.04,389.58 486.5,385 C487.96,380.42 490.5,376 492.75,372.5 C495,369 497.62,366.5 500,364 C502.38,361.5 504.75,359.52 507,357.5 C509.25,355.48 510.75,354.19 513.5,351.9 C516.25,349.61 520.38,346.15 523.5,343.75 C526.62,341.35 529.75,339.58 532.25,337.5 C534.75,335.42 536.21,333.33 538.5,331.25 C540.79,329.17 542.75,327.39 546,325 C549.25,322.61 551.67,321.18 558,316.9 C564.33,312.62 578.83,302.82 584,299.3 C589.17,295.78 586.85,297.47 589,295.8 C591.15,294.13 594.58,291.07 596.9,289.3 C599.22,287.53 600.77,286.65 602.9,285.2 C605.03,283.75 607.42,282.12 609.7,280.6 C611.98,279.08 614.7,277.32 616.6,276.1 C618.5,274.88 619.58,274.15 621.1,273.3 C622.62,272.45 624.05,271.88 625.7,271 C627.35,270.12 628.98,269.08 631,268 C633.02,266.92 636.67,265.08 637.8,264.5" class="cg"/>
<path d="M562.75,416.25 C559.21,416.04 547.96,415.83 541.5,415 C535.04,414.17 529,413.33 524,411.25 C519,409.17 514.33,405.62 511.5,402.5 C508.67,399.38 507.62,395.83 507,392.5 C506.38,389.17 505.75,386.67 507.75,382.5 C509.75,378.33 515.86,371.58 519,367.5 C522.14,363.42 524.18,360.92 526.6,358 C529.02,355.08 530.89,353 533.5,350 C536.11,347 539.54,343.12 542.25,340 C544.96,336.88 547.12,333.85 549.75,331.25 C552.38,328.65 554.79,326.77 558,324.4 C561.21,322.02 563.42,320.73 569,317 C574.58,313.27 585.82,305.5 591.5,302 C597.18,298.5 599.39,297.92 603.1,296 C606.81,294.08 609.89,292.46 613.75,290.5 C617.61,288.54 622.24,286.12 626.25,284.25 C630.26,282.38 635.88,280.08 637.8,279.25" class="cb"/>
<path d="M502.25,333.75 C502.71,334.62 503.75,337.71 505,339 C506.25,340.29 507.71,341.33 509.75,341.5 C511.79,341.67 514.54,341.08 517.25,340 C519.96,338.92 523.29,336.88 526,335 C528.71,333.12 531.21,331.15 533.5,328.75 C535.79,326.35 538.4,322.79 539.75,320.6 C541.1,318.41 541.81,316.95 541.6,315.6 C541.39,314.25 539.85,313.02 538.5,312.5 C537.15,311.98 535.58,311.98 533.5,312.5 C531.42,313.02 528.92,314.14 526,315.6 C523.08,317.06 519.12,319.27 516,321.25 C512.88,323.23 509.43,325.94 507.25,327.5 C505.07,329.06 503.73,329.56 502.9,330.6 C502.07,331.64 502.36,333.23 502.25,333.75" class="cr"/>
<text x="378.1" y="434.5" class="tl" text-anchor="middle">0.4</text>
<text x="421.8" y="434.5" class="tl" text-anchor="middle">0.5</text>
<text x="465.49" y="434.5" class="tl" text-anchor="middle">0.6</text>
<text x="509.19" y="434.5" class="tl" text-anchor="middle">0.7</text>
<text x="552.88" y="434.5" class="tl" text-anchor="middle">0.8</text>
<text x="596.58" y="434.5" class="tl" text-anchor="middle">0.9</text>
<text x="370.5" y="246.8" class="tl" text-anchor="end">2</text>
<text x="370.5" y="268.99" class="tl" text-anchor="end">1.5</text>
<text x="370.5" y="291.18" class="tl" text-anchor="end">1</text>
<text x="370.5" y="313.36" class="tl" text-anchor="end">0.5</text>
<text x="370.5" y="335.55" class="tl" text-anchor="end">0</text>
<text x="370.5" y="357.74" class="tl" text-anchor="end">-0.5</text>
<text x="370.5" y="379.93" class="tl" text-anchor="end">-1</text>
<text x="370.5" y="402.11" class="tl" text-anchor="end">-1.5</text>
<text x="370.5" y="424.3" class="tl" text-anchor="end">-2</text>
<rect x="376.5" y="242.6" width="261.3" height="177.5" class="fr"/>
<text transform="translate(380.6,287) scale(1,1.1)" class="an">Simulation: B, Fit: relxilllp_nk</text>
<text transform="translate(502.55,452.4) scale(1,1.12)" class="al sfa">a</text>
<circle cx="510.45" cy="449.8" r="1.25" fill="#111"/>
<text transform="translate(339.7,331.35) rotate(-90)" class="al" text-anchor="middle"><tspan font-size="13.5" class="sf">&#945;</tspan><tspan font-size="9.3" dy="3.3">13</tspan></text>
<line x1="99.13" y1="475.2" x2="99.13" y2="652.8" class="gr"/>
<line x1="184.4" y1="475.2" x2="184.4" y2="652.8" class="gr"/>
<line x1="269.67" y1="475.2" x2="269.67" y2="652.8" class="gr"/>
<line x1="56.5" y1="497.4" x2="312.3" y2="497.4" class="gr"/>
<line x1="56.5" y1="541.8" x2="312.3" y2="541.8" class="gr"/>
<line x1="56.5" y1="564" x2="312.3" y2="564" class="gr"/>
<line x1="56.5" y1="586.2" x2="312.3" y2="586.2" class="gr"/>
<line x1="56.5" y1="608.4" x2="312.3" y2="608.4" class="gr"/>
<line x1="56.5" y1="630.6" x2="312.3" y2="630.6" class="gr"/>
<line x1="56.5" y1="652.8" x2="56.5" y2="649.3" class="tk"/>
<line x1="99.13" y1="652.8" x2="99.13" y2="649.3" class="tk"/>
<line x1="141.77" y1="652.8" x2="141.77" y2="649.3" class="tk"/>
<line x1="184.4" y1="652.8" x2="184.4" y2="649.3" class="tk"/>
<line x1="227.03" y1="652.8" x2="227.03" y2="649.3" class="tk"/>
<line x1="269.67" y1="652.8" x2="269.67" y2="649.3" class="tk"/>
<line x1="312.3" y1="652.8" x2="312.3" y2="649.3" class="tk"/>
<line x1="56.5" y1="475.2" x2="60" y2="475.2" class="tk"/>
<line x1="56.5" y1="497.4" x2="60" y2="497.4" class="tk"/>
<line x1="56.5" y1="519.6" x2="60" y2="519.6" class="tk"/>
<line x1="56.5" y1="541.8" x2="60" y2="541.8" class="tk"/>
<line x1="56.5" y1="564" x2="60" y2="564" class="tk"/>
<line x1="56.5" y1="586.2" x2="60" y2="586.2" class="tk"/>
<line x1="56.5" y1="608.4" x2="60" y2="608.4" class="tk"/>
<line x1="56.5" y1="630.6" x2="60" y2="630.6" class="tk"/>
<line x1="56.5" y1="652.8" x2="60" y2="652.8" class="tk"/>
<line x1="56.5" y1="519.6" x2="312.3" y2="519.6" class="zl"/>
<path d="M312.3,507.7 C302.97,508.55 270.02,511.43 256.3,512.8 C242.58,514.17 238.75,515 230,515.9 C221.25,516.8 210.95,517.57 203.8,518.2 C196.65,518.83 192.68,519.18 187.1,519.7 C181.52,520.22 175.9,520.72 170.3,521.3 C164.7,521.88 157.13,522.53 153.5,523.2 C149.87,523.87 150.17,523.83 148.5,525.3 C146.83,526.77 145.18,529.2 143.5,532 C141.82,534.8 139.94,539.02 138.4,542.1 C136.86,545.18 135.05,548.55 134.25,550.5 C133.45,552.45 133.17,552.55 133.6,553.8 C134.03,555.05 134.6,556.68 136.8,558 C139,559.32 142.62,560.72 146.8,561.7 C150.98,562.68 156.58,563.12 161.9,563.9 C167.22,564.68 173.1,565.57 178.7,566.4 C184.3,567.23 190.95,568.23 195.5,568.9 C200.05,569.57 200.25,569.63 206,570.4 C211.75,571.17 221.62,572.43 230,573.5 C238.38,574.57 242.58,575.18 256.3,576.8 C270.02,578.42 302.97,582.13 312.3,583.2" class="cb"/>
<path d="M312.3,515.8 C308.55,516 299.13,516.38 289.8,517 C280.47,517.62 267.47,518.53 256.3,519.5 C245.13,520.47 229.18,522.13 222.8,522.8 C216.42,523.47 219.13,523.13 218,523.5 C216.87,523.87 216.47,524 216,525 C215.53,526 215.05,527.07 215.2,529.5 C215.35,531.93 215.92,536.23 216.9,539.6 C217.88,542.97 219.28,546.9 221.1,549.7 C222.92,552.5 224.73,554.68 227.8,556.4 C230.87,558.12 234.75,559 239.5,560 C244.25,561 249.3,561.55 256.3,562.4 C263.3,563.25 272.17,564.1 281.5,565.1 C290.83,566.1 307.17,567.85 312.3,568.4" class="cg"/>
<path d="M312.3,519.8 C308.55,520.03 298.57,520.63 289.8,521.2 C281.03,521.77 264.72,522.87 259.7,523.2 C259.63,523.55 258.75,524.1 259.3,525.3 C259.85,526.5 261.27,528.43 263,530.4 C264.73,532.37 266.9,534.73 269.7,537.1 C272.5,539.47 275.88,542.37 279.8,544.6 C283.72,546.83 287.78,548.68 293.2,550.5 C298.62,552.32 309.12,554.67 312.3,555.5" class="cr"/>
<path d="M275.8,558.8 C276,558.6 276.45,557.83 277,557.6 C277.55,557.37 278.4,557.4 279.1,557.4 C279.8,557.4 280.65,557.37 281.2,557.6 C281.75,557.83 282.4,558.4 282.4,558.8 C282.4,559.2 281.75,559.77 281.2,560 C280.65,560.23 279.8,560.2 279.1,560.2 C278.4,560.2 277.55,560.23 277,560 C276.45,559.77 276,559 275.8,558.8" class="cr"/>
<text x="58.1" y="667.2" class="tl" text-anchor="middle">0.995</text>
<text x="100.73" y="667.2" class="tl" text-anchor="middle">0.9955</text>
<text x="143.37" y="667.2" class="tl" text-anchor="middle">0.996</text>
<text x="186" y="667.2" class="tl" text-anchor="middle">0.9965</text>
<text x="228.63" y="667.2" class="tl" text-anchor="middle">0.997</text>
<text x="271.27" y="667.2" class="tl" text-anchor="middle">0.9975</text>
<text x="313.9" y="667.2" class="tl" text-anchor="middle">0.998</text>
<text x="50.5" y="479.4" class="tl" text-anchor="end">0.1</text>
<text x="50.5" y="501.6" class="tl" text-anchor="end">0.05</text>
<text x="50.5" y="523.8" class="tl" text-anchor="end">0</text>
<text x="50.5" y="546" class="tl" text-anchor="end">-0.05</text>
<text x="50.5" y="568.2" class="tl" text-anchor="end">-0.1</text>
<text x="50.5" y="590.4" class="tl" text-anchor="end">-0.15</text>
<text x="50.5" y="612.6" class="tl" text-anchor="end">-0.2</text>
<text x="50.5" y="634.8" class="tl" text-anchor="end">-0.25</text>
<text x="50.5" y="657" class="tl" text-anchor="end">-0.3</text>
<rect x="56.5" y="475.2" width="255.8" height="177.6" class="fr"/>
<text transform="translate(99,604.3) scale(1,1.1)" class="an">Simulation: C, Fit: relxill_nk</text>
<text transform="translate(179.8,685.1) scale(1,1.12)" class="al sfa">a</text>
<circle cx="187.7" cy="682.5" r="1.25" fill="#111"/>
<text transform="translate(13.8,564) rotate(-90)" class="al" text-anchor="middle"><tspan font-size="13.5" class="sf">&#945;</tspan><tspan font-size="9.3" dy="3.3">13</tspan></text>
<line x1="410.88" y1="475.4" x2="410.88" y2="652.7" class="gr"/>
<line x1="445.26" y1="475.4" x2="445.26" y2="652.7" class="gr"/>
<line x1="479.64" y1="475.4" x2="479.64" y2="652.7" class="gr"/>
<line x1="514.03" y1="475.4" x2="514.03" y2="652.7" class="gr"/>
<line x1="548.41" y1="475.4" x2="548.41" y2="652.7" class="gr"/>
<line x1="582.79" y1="475.4" x2="582.79" y2="652.7" class="gr"/>
<line x1="617.17" y1="475.4" x2="617.17" y2="652.7" class="gr"/>
<line x1="376.5" y1="500.73" x2="637.8" y2="500.73" class="gr"/>
<line x1="376.5" y1="551.39" x2="637.8" y2="551.39" class="gr"/>
<line x1="376.5" y1="576.71" x2="637.8" y2="576.71" class="gr"/>
<line x1="376.5" y1="602.04" x2="637.8" y2="602.04" class="gr"/>
<line x1="376.5" y1="627.37" x2="637.8" y2="627.37" class="gr"/>
<line x1="376.5" y1="652.7" x2="376.5" y2="649.2" class="tk"/>
<line x1="410.88" y1="652.7" x2="410.88" y2="649.2" class="tk"/>
<line x1="445.26" y1="652.7" x2="445.26" y2="649.2" class="tk"/>
<line x1="479.64" y1="652.7" x2="479.64" y2="649.2" class="tk"/>
<line x1="514.03" y1="652.7" x2="514.03" y2="649.2" class="tk"/>
<line x1="548.41" y1="652.7" x2="548.41" y2="649.2" class="tk"/>
<line x1="582.79" y1="652.7" x2="582.79" y2="649.2" class="tk"/>
<line x1="617.17" y1="652.7" x2="617.17" y2="649.2" class="tk"/>
<line x1="376.5" y1="475.4" x2="380" y2="475.4" class="tk"/>
<line x1="376.5" y1="500.73" x2="380" y2="500.73" class="tk"/>
<line x1="376.5" y1="526.06" x2="380" y2="526.06" class="tk"/>
<line x1="376.5" y1="551.39" x2="380" y2="551.39" class="tk"/>
<line x1="376.5" y1="576.71" x2="380" y2="576.71" class="tk"/>
<line x1="376.5" y1="602.04" x2="380" y2="602.04" class="tk"/>
<line x1="376.5" y1="627.37" x2="380" y2="627.37" class="tk"/>
<line x1="376.5" y1="652.7" x2="380" y2="652.7" class="tk"/>
<rect x="410.3" y="498.5" width="151.7" height="2.6" fill="#fff"/>
<polygon points="376.5,628.2 410.2,622.7 445.5,616 480,610.1 530,600.4 563.5,593.3 597.1,584.4 636.7,573.5 636.7,651.6 376.5,651.6" fill="#bebebe"/>
<line x1="376.5" y1="526.06" x2="637.8" y2="526.06" class="zl"/>
<path d="M587.8,584.4 C586.27,583.57 581.25,580.52 578.6,579.4 C575.95,578.28 575.25,577.28 571.9,577.7 C568.55,578.12 562.68,580.87 558.5,581.9 C554.32,582.93 551.55,583.8 546.8,583.9 C542.05,584 535.77,582.83 530,582.5 C524.23,582.17 517.95,582.2 512.2,581.9 C506.45,581.6 501.08,581.12 495.5,580.7 C489.92,580.28 484.3,579.98 478.7,579.4 C473.1,578.82 467.35,578.15 461.9,577.2 C456.45,576.25 450.32,574.9 446,573.7 C441.68,572.5 438.5,571.2 436,570 C433.5,568.8 432.75,568.07 431,566.5 C429.25,564.93 427.5,562.55 425.5,560.6 C423.5,558.65 421.67,556.23 419,554.8 C416.33,553.37 412.75,552.88 409.5,552 C406.25,551.12 402.57,550.48 399.5,549.5 C396.43,548.52 393.07,547.65 391.1,546.1 C389.13,544.55 387.84,541.88 387.7,540.2 C387.56,538.52 388.57,537.38 390.25,536 C391.93,534.62 394.59,533.2 397.8,531.9 C401.01,530.6 404.75,529.33 409.5,528.2 C414.25,527.08 420.7,526.22 426.3,525.15 C431.9,524.08 437.48,522.82 443.1,521.8 C448.72,520.77 451.6,520.23 460,519 C468.4,517.77 482.32,516.1 493.5,514.4 C504.68,512.7 517.55,510.25 527.1,508.8 C536.65,507.35 542.67,506.73 550.8,505.7 C558.93,504.67 569.03,503.38 575.9,502.6 C582.77,501.82 587.82,501.33 592,501 C596.18,500.67 598.58,500.55 601,500.6 C603.42,500.65 604.75,500.9 606.5,501.3 C608.25,501.7 609.05,502 611.5,503 C613.95,504 618.18,505.93 621.2,507.3 C624.22,508.67 626.83,509.88 629.6,511.2 C632.37,512.52 636.43,514.53 637.8,515.2" class="cb"/>
<path d="M608.5,579.4 C608.13,578.98 607.37,577.6 606.3,576.9 C605.23,576.2 605.03,575.77 602.1,575.2 C599.17,574.63 595.13,573.78 588.7,573.5 C582.27,573.22 570.48,573.77 563.5,573.5 C556.52,573.23 551.55,573.02 546.8,571.9 C542.05,570.78 537.97,568.37 535,566.8 C532.03,565.23 531.33,563.93 529,562.5 C526.67,561.07 525.2,559.78 521,558.2 C516.8,556.62 509.55,554.6 503.8,553 C498.05,551.4 492.13,550.07 486.5,548.6 C480.87,547.13 474.25,545.72 470,544.2 C465.75,542.68 463.03,540.67 461,539.5 C458.97,538.33 457.97,537.95 457.8,537.2 C457.63,536.45 458.22,536.07 460,535 C461.78,533.93 464.3,532.28 468.5,530.8 C472.7,529.32 478.23,527.72 485.2,526.1 C492.17,524.48 502,522.95 510.3,521.1 C518.6,519.25 528.25,516.4 535,515 C541.75,513.6 543.98,513.5 550.8,512.7 C557.62,511.9 567.52,510.82 575.9,510.2 C584.28,509.58 594.12,509 601.1,509 C608.08,509 611.68,509.17 617.8,510.2 C623.92,511.23 634.47,514.37 637.8,515.2" class="cg"/>
<path d="M630.6,573.2 C630.32,572.83 629.73,571.65 628.9,571 C628.07,570.35 628.12,569.72 625.6,569.3 C623.08,568.88 618.55,568.77 613.8,568.5 C609.05,568.23 602.68,568.03 597.1,567.7 C591.52,567.37 585.9,566.98 580.3,566.5 C574.7,566.02 568.25,565.72 563.5,564.8 C558.75,563.88 554.63,562.47 551.8,561 C548.97,559.53 548.47,557.4 546.5,556 C544.53,554.6 542.75,553.65 540,552.6 C537.25,551.55 533.23,550.58 530,549.7 C526.77,548.82 525,548.43 520.6,547.3 C516.2,546.17 507.27,544.48 503.6,542.9 C499.93,541.32 499.3,539.2 498.6,537.8 C497.9,536.4 498.02,535.47 499.4,534.5 C500.78,533.53 502.85,532.57 506.9,532 C510.95,531.43 518.1,531.25 523.7,531.1 C529.3,530.95 535.47,531.28 540.5,531.1 C545.53,530.92 551.07,530.55 553.9,530 C556.73,529.45 556.35,528.82 557.5,527.8 C558.65,526.78 559.55,525.72 560.8,523.9 C562.05,522.08 563.32,518.48 565,516.9 C566.68,515.32 566.28,515.02 570.9,514.4 C575.52,513.78 586.27,513.48 592.7,513.2 C599.13,512.92 603.92,512.7 609.5,512.7 C615.08,512.7 621.48,512.78 626.2,513.2 C630.92,513.62 635.87,514.87 637.8,515.2" class="cr"/>
<path d="M592.4,543.4 C592.9,543.4 594.9,543.4 595.4,543.4" class="cr"/>
<text x="378.1" y="667.1" class="tl" text-anchor="middle">0.96</text>
<text x="412.48" y="667.1" class="tl" text-anchor="middle">0.965</text>
<text x="446.86" y="667.1" class="tl" text-anchor="middle">0.97</text>
<text x="481.24" y="667.1" class="tl" text-anchor="middle">0.975</text>
<text x="515.63" y="667.1" class="tl" text-anchor="middle">0.98</text>
<text x="550.01" y="667.1" class="tl" text-anchor="middle">0.985</text>
<text x="584.39" y="667.1" class="tl" text-anchor="middle">0.99</text>
<text x="618.77" y="667.1" class="tl" text-anchor="middle">0.995</text>
<text x="370.5" y="479.6" class="tl" text-anchor="end">0.4</text>
<text x="370.5" y="504.93" class="tl" text-anchor="end">0.2</text>
<text x="370.5" y="530.26" class="tl" text-anchor="end">0</text>
<text x="370.5" y="555.59" class="tl" text-anchor="end">-0.2</text>
<text x="370.5" y="580.91" class="tl" text-anchor="end">-0.4</text>
<text x="370.5" y="606.24" class="tl" text-anchor="end">-0.6</text>
<text x="370.5" y="631.57" class="tl" text-anchor="end">-0.8</text>
<text x="370.5" y="656.9" class="tl" text-anchor="end">-1</text>
<rect x="376.5" y="475.4" width="261.3" height="177.3" class="fr"/>
<text transform="translate(410.3,499.8) scale(1,1.1)" class="an">Simulation: C, Fit: relxilllp_nk</text>
<text transform="translate(502.55,685) scale(1,1.12)" class="al sfa">a</text>
<circle cx="510.45" cy="682.4" r="1.25" fill="#111"/>
<text transform="translate(339.7,564.05) rotate(-90)" class="al" text-anchor="middle"><tspan font-size="13.5" class="sf">&#945;</tspan><tspan font-size="9.3" dy="3.3">13</tspan></text>
<line x1="107.35" y1="707.6" x2="107.35" y2="885.1" class="gr"/>
<line x1="164.2" y1="707.6" x2="164.2" y2="885.1" class="gr"/>
<line x1="277.89" y1="707.6" x2="277.89" y2="885.1" class="gr"/>
<line x1="50.5" y1="725.35" x2="312" y2="725.35" class="gr"/>
<line x1="50.5" y1="760.85" x2="312" y2="760.85" class="gr"/>
<line x1="50.5" y1="831.85" x2="312" y2="831.85" class="gr"/>
<line x1="50.5" y1="867.35" x2="312" y2="867.35" class="gr"/>
<line x1="50.5" y1="885.1" x2="50.5" y2="881.6" class="tk"/>
<line x1="107.35" y1="885.1" x2="107.35" y2="881.6" class="tk"/>
<line x1="164.2" y1="885.1" x2="164.2" y2="881.6" class="tk"/>
<line x1="221.04" y1="885.1" x2="221.04" y2="881.6" class="tk"/>
<line x1="277.89" y1="885.1" x2="277.89" y2="881.6" class="tk"/>
<line x1="50.5" y1="725.35" x2="54" y2="725.35" class="tk"/>
<line x1="50.5" y1="760.85" x2="54" y2="760.85" class="tk"/>
<line x1="50.5" y1="796.35" x2="54" y2="796.35" class="tk"/>
<line x1="50.5" y1="831.85" x2="54" y2="831.85" class="tk"/>
<line x1="50.5" y1="867.35" x2="54" y2="867.35" class="tk"/>
<rect x="61.4" y="758.5" width="142.6" height="2.6" fill="#fff"/>
<polygon points="221.9,884 246.5,880.9 277,872.5 299.8,866.4 310.9,863.2 310.9,884" fill="#bebebe"/>
<line x1="50.5" y1="796.35" x2="312" y2="796.35" class="zl"/>
<path d="M312,852.5 C309.7,852.27 303.28,851.75 298.2,851.1 C293.12,850.45 287.08,849.57 281.5,848.6 C275.92,847.63 270.3,846.42 264.7,845.3 C259.1,844.18 253.48,843.3 247.9,841.9 C242.32,840.5 235.88,838.55 231.2,836.9 C226.52,835.25 222.92,833.73 219.8,832 C216.68,830.27 214.8,828.2 212.5,826.5 C210.2,824.8 207.47,823.67 206,821.8 C204.53,819.93 204,817.08 203.7,815.3 C203.4,813.52 203.42,812.92 204.2,811.1 C204.98,809.28 206.58,806.63 208.4,804.4 C210.22,802.17 213.43,799.23 215.1,797.7 C216.77,796.17 215.33,796.03 218.4,795.2 C221.47,794.37 226.78,793.68 233.5,792.7 C240.22,791.72 250.32,790.42 258.7,789.3 C267.08,788.18 274.92,787.02 283.8,786 C292.68,784.98 307.3,783.67 312,783.2" class="cb"/>
<path d="M312,841.1 C308.3,840.25 296.28,837.68 289.8,836 C283.32,834.32 278,832.48 273.1,831 C268.2,829.52 264.2,828.6 260.4,827.1 C256.6,825.6 252.67,823.3 250.3,822 C247.93,820.7 247.88,820.27 246.2,819.3 C244.52,818.33 242.03,817.37 240.2,816.2 C238.37,815.03 236.03,812.95 235.2,812.3 C236.18,811.13 239.13,807.73 241.1,805.3 C243.07,802.87 245.47,799.43 247,797.7 C248.53,795.97 248.35,795.6 250.3,794.9 C252.25,794.2 253.12,794.15 258.7,793.5 C264.28,792.85 274.92,791.7 283.8,791 C292.68,790.3 307.3,789.58 312,789.3" class="cg"/>
<path d="M312,831 C309.75,830.42 302.83,828.8 298.5,827.5 C294.17,826.2 289.83,824.67 286,823.2 C282.17,821.73 278.8,820.28 275.5,818.7 C272.2,817.12 268.08,814.95 266.2,813.7 C264.32,812.45 264.67,812.07 264.2,811.2 C263.73,810.33 263.47,809.45 263.4,808.5 C263.33,807.55 263.6,806.45 263.8,805.5 C264,804.55 264.05,804.23 264.6,802.8 C265.15,801.37 266.13,798.22 267.1,796.9 C268.07,795.58 267.62,795.47 270.4,794.9 C273.18,794.33 276.87,793.95 283.8,793.5 C290.73,793.05 307.3,792.42 312,792.2" class="cr"/>
<path d="M311.5,858.5 C311.58,858.75 311.92,859.75 312,860" class="cb"/>
<text x="52.1" y="899.5" class="tl" text-anchor="middle">0.975</text>
<text x="108.95" y="899.5" class="tl" text-anchor="middle">0.98</text>
<text x="165.8" y="899.5" class="tl" text-anchor="middle">0.985</text>
<text x="222.64" y="899.5" class="tl" text-anchor="middle">0.99</text>
<text x="279.49" y="899.5" class="tl" text-anchor="middle">0.995</text>
<text x="44.5" y="729.55" class="tl" text-anchor="end">0.4</text>
<text x="44.5" y="765.05" class="tl" text-anchor="end">0.2</text>
<text x="44.5" y="800.55" class="tl" text-anchor="end">0</text>
<text x="44.5" y="836.05" class="tl" text-anchor="end">-0.2</text>
<text x="44.5" y="871.55" class="tl" text-anchor="end">-0.4</text>
<rect x="50.5" y="707.6" width="261.5" height="177.5" class="fr"/>
<text transform="translate(61.4,759.8) scale(1,1.1)" class="an">Simulation: D, Fit: relxill_nk</text>
<text transform="translate(176.65,917.4) scale(1,1.12)" class="al sfa">a</text>
<circle cx="184.55" cy="914.8" r="1.25" fill="#111"/>
<text transform="translate(13.7,796.35) rotate(-90)" class="al" text-anchor="middle"><tspan font-size="13.5" class="sf">&#945;</tspan><tspan font-size="9.3" dy="3.3">13</tspan></text>
<line x1="455.05" y1="707.6" x2="455.05" y2="885.1" class="gr"/>
<line x1="481.23" y1="707.6" x2="481.23" y2="885.1" class="gr"/>
<line x1="507.41" y1="707.6" x2="507.41" y2="885.1" class="gr"/>
<line x1="533.59" y1="707.6" x2="533.59" y2="885.1" class="gr"/>
<line x1="559.78" y1="707.6" x2="559.78" y2="885.1" class="gr"/>
<line x1="585.96" y1="707.6" x2="585.96" y2="885.1" class="gr"/>
<line x1="612.14" y1="707.6" x2="612.14" y2="885.1" class="gr"/>
<line x1="376.5" y1="729.79" x2="637.8" y2="729.79" class="gr"/>
<line x1="376.5" y1="751.98" x2="637.8" y2="751.98" class="gr"/>
<line x1="376.5" y1="774.16" x2="637.8" y2="774.16" class="gr"/>
<line x1="376.5" y1="818.54" x2="637.8" y2="818.54" class="gr"/>
<line x1="376.5" y1="840.73" x2="637.8" y2="840.73" class="gr"/>
<line x1="376.5" y1="862.91" x2="637.8" y2="862.91" class="gr"/>
<line x1="376.5" y1="885.1" x2="376.5" y2="881.6" class="tk"/>
<line x1="402.68" y1="885.1" x2="402.68" y2="881.6" class="tk"/>
<line x1="428.86" y1="885.1" x2="428.86" y2="881.6" class="tk"/>
<line x1="455.05" y1="885.1" x2="455.05" y2="881.6" class="tk"/>
<line x1="481.23" y1="885.1" x2="481.23" y2="881.6" class="tk"/>
<line x1="507.41" y1="885.1" x2="507.41" y2="881.6" class="tk"/>
<line x1="533.59" y1="885.1" x2="533.59" y2="881.6" class="tk"/>
<line x1="559.78" y1="885.1" x2="559.78" y2="881.6" class="tk"/>
<line x1="585.96" y1="885.1" x2="585.96" y2="881.6" class="tk"/>
<line x1="612.14" y1="885.1" x2="612.14" y2="881.6" class="tk"/>
<line x1="376.5" y1="707.6" x2="380" y2="707.6" class="tk"/>
<line x1="376.5" y1="729.79" x2="380" y2="729.79" class="tk"/>
<line x1="376.5" y1="751.98" x2="380" y2="751.98" class="tk"/>
<line x1="376.5" y1="774.16" x2="380" y2="774.16" class="tk"/>
<line x1="376.5" y1="796.35" x2="380" y2="796.35" class="tk"/>
<line x1="376.5" y1="818.54" x2="380" y2="818.54" class="tk"/>
<line x1="376.5" y1="840.73" x2="380" y2="840.73" class="tk"/>
<line x1="376.5" y1="862.91" x2="380" y2="862.91" class="tk"/>
<line x1="376.5" y1="885.1" x2="380" y2="885.1" class="tk"/>
<rect x="378.4" y="750.4" width="73.6" height="2.6" fill="#fff"/>
<rect x="378.4" y="772.5" width="75.1" height="2.6" fill="#fff"/>
<polygon points="594.4,884 636.7,817 636.7,884" fill="#bebebe"/>
<line x1="376.5" y1="796.35" x2="637.8" y2="796.35" class="zl"/>
<path d="M527.25,707.6 C526.04,709.33 522.29,715.07 520,718 C517.71,720.93 517.5,721.12 513.5,725.2 C509.5,729.28 502.25,736.62 496,742.5 C489.75,748.38 481.83,755.17 476,760.5 C470.17,765.83 464.33,771.33 461,774.5 C457.67,777.67 458.08,777.42 456,779.5 C453.92,781.58 450.79,784.22 448.5,787 C446.21,789.78 443.92,793.2 442.25,796.2 C440.58,799.2 439.96,801.7 438.5,805 C437.04,808.3 436.42,812.04 433.5,816 C430.58,819.96 425.17,824.54 421,828.75 C416.83,832.96 411.62,838.12 408.5,841.25 C405.38,844.38 403.29,846.46 402.25,847.5 C400.79,845.62 396.42,840.33 393.5,836.25 C390.58,832.17 386.21,825.21 384.75,823" class="cb"/>
<path d="M551,707.6 C550.17,709 547.67,713.1 546,716 C544.33,718.9 544.33,721.21 541,725 C537.67,728.79 531.42,733.83 526,738.75 C520.58,743.67 513.08,750.46 508.5,754.5 C503.92,758.54 501.83,759.92 498.5,763 C495.17,766.08 491.21,770.25 488.5,773 C485.79,775.75 484.67,777.25 482.25,779.5 C479.83,781.75 476.54,783.72 474,786.5 C471.46,789.28 468.96,792.87 467,796.2 C465.04,799.53 464.08,802.53 462.25,806.5 C460.42,810.47 459.12,815.25 456,820 C452.88,824.75 448.08,829.58 443.5,835 C438.92,840.42 432.46,847.5 428.5,852.5 C424.54,857.5 421.83,861.25 419.75,865 C417.67,868.75 416.96,871.65 416,875 C415.04,878.35 414.33,883.42 414,885.1" class="cg"/>
<path d="M467.25,885.1 C466.54,883.42 463.42,878.14 463,875 C462.58,871.86 463,868.83 464.75,866.25 C466.5,863.67 469.96,861.58 473.5,859.5 C477.04,857.42 483.42,855.54 486,853.75 C488.58,851.96 489,850.83 489,848.75 C489,846.67 487.67,844.38 486,841.25 C484.33,838.12 480.17,835.21 479,830 C477.83,824.79 478.67,815.62 479,810 C479.33,804.38 479.42,799.83 481,796.25 C482.58,792.67 485.58,791.29 488.5,788.5 C491.42,785.71 495.58,781.96 498.5,779.5 C501.42,777.04 502.25,775.04 506,773.75 C509.75,772.46 515.58,771.75 521,771.75 C526.42,771.75 533.71,772.58 538.5,773.75 C543.29,774.92 548.08,777.08 549.75,778.75 C551.42,780.42 550.79,782.08 548.5,783.75 C546.21,785.42 540.58,786.88 536,788.75 C531.42,790.62 524.33,792.5 521,795 C517.67,797.5 516.42,800.42 516,803.75 C515.58,807.08 516.83,811.88 518.5,815 C520.17,818.12 523.5,820.83 526,822.5 C528.5,824.17 531.17,824.75 533.5,825 C535.83,825.25 537.33,824.92 540,824 C542.67,823.08 546.25,821.52 549.5,819.5 C552.75,817.48 557.83,813.17 559.5,811.9 C561.53,813.43 567.82,818.12 571.7,821.1 C575.58,824.08 580.15,827.15 582.8,829.8 C585.45,832.45 586.02,835.02 587.6,837 C589.18,838.98 589.93,840.12 592.3,841.7 C594.67,843.28 599.42,845.05 601.8,846.5 C604.18,847.95 605.4,848.3 606.6,850.4 C607.8,852.5 608.6,857.65 609,859.1" class="cr"/>
<path d="M567.25,707.6 C565.79,710.08 561.62,718.14 558.5,722.5 C555.38,726.86 551.08,730.42 548.5,733.75 C545.92,737.08 543.42,739.79 543,742.5 C542.58,745.21 543.42,747.71 546,750 C548.58,752.29 554.12,754.92 558.5,756.25 C562.88,757.58 568.67,757.86 572.25,758 C575.83,758.14 577.71,757.67 580,757.1 C582.29,756.53 584.05,755.67 586,754.6 C587.95,753.53 589.77,752.15 591.7,750.7 C593.63,749.25 595.65,747.75 597.6,745.9 C599.55,744.05 601.62,741.38 603.4,739.6 C605.18,737.82 606.83,736.92 608.3,735.2 C609.77,733.48 610.73,731.1 612.2,729.3 C613.67,727.5 615.32,726.02 617.1,724.4 C618.88,722.78 620.63,721.38 622.9,719.6 C625.17,717.82 628.22,715.58 630.7,713.7 C633.18,711.82 636.62,709.2 637.8,708.3" class="cr"/>
<path d="M637.8,708.3 C636.78,709.37 633.53,712.67 631.7,714.7 C629.87,716.73 627.85,718.72 626.8,720.5 C625.75,722.28 625.55,723.93 625.4,725.4 C625.25,726.87 625.33,727.67 625.9,729.3 C626.47,730.93 627.5,733.57 628.8,735.2 C630.1,736.83 632.2,737.88 633.7,739.1 C635.2,740.32 637.12,741.93 637.8,742.5" class="cb"/>
<path d="M637.8,708.3 C636.78,709.37 633.53,712.67 631.7,714.7 C629.87,716.73 627.85,718.72 626.8,720.5 C625.75,722.28 625.55,723.93 625.4,725.4 C625.25,726.87 625.33,727.67 625.9,729.3 C626.47,730.93 627.5,733.57 628.8,735.2 C630.1,736.83 632.2,737.88 633.7,739.1 C635.2,740.32 637.12,741.93 637.8,742.5" class="cg"/>
<path d="M637.8,743.9 C636.78,744.72 633.53,747.33 631.7,748.8 C629.87,750.27 628.27,751.23 626.8,752.7 C625.33,754.17 623.78,756.13 622.9,757.6 C622.02,759.07 621.65,759.72 621.5,761.5 C621.35,763.28 621.6,766.2 622,768.3 C622.4,770.4 623.33,772.32 623.9,774.1 C624.47,775.88 625.15,776.38 625.4,779 C625.65,781.62 625.17,787.35 625.4,789.8 C625.63,792.25 625.92,792.57 626.8,793.7 C627.68,794.83 629.4,795.88 630.7,796.6 C632,797.32 633.42,797.68 634.6,798 C635.78,798.32 637.27,798.42 637.8,798.5" class="cb"/>
<path d="M637.8,743.9 C636.95,744.55 634.53,746.42 632.7,747.8 C630.87,749.18 628.75,750.57 626.8,752.2 C624.85,753.83 622.53,755.9 621,757.6 C619.47,759.3 618.5,760.78 617.6,762.4 C616.7,764.02 616.05,765.35 615.6,767.3 C615.15,769.25 614.98,771.15 614.9,774.1 C614.82,777.05 615.15,782.72 615.1,785 C615.05,787.28 615.08,785.9 614.6,787.8 C614.12,789.7 613.58,793.97 612.2,796.4 C610.82,798.83 608.25,800.25 606.3,802.4 C604.35,804.55 601.88,807.18 600.5,809.3 C599.12,811.42 598.43,813.67 598,815.1 C597.57,816.53 597.9,816.92 597.9,817.9 C597.9,818.88 597.62,819.42 598,821 C598.38,822.58 598.77,825.27 600.2,827.4 C601.63,829.53 604.48,832.78 606.6,833.8 C608.72,834.82 610.92,833.77 612.9,833.5 C614.88,833.23 617.23,831.88 618.5,832.2 C619.77,832.52 620.37,833.55 620.5,835.4 C620.63,837.25 619.5,841.98 619.3,843.3" class="cg"/>
<path d="M636,815 C636.3,814.47 637.5,812.33 637.8,811.8" class="cb"/>
<text x="378.1" y="899.5" class="tl" text-anchor="middle">0</text>
<text x="404.28" y="899.5" class="tl" text-anchor="middle">0.1</text>
<text x="430.46" y="899.5" class="tl" text-anchor="middle">0.2</text>
<text x="456.65" y="899.5" class="tl" text-anchor="middle">0.3</text>
<text x="482.83" y="899.5" class="tl" text-anchor="middle">0.4</text>
<text x="509.01" y="899.5" class="tl" text-anchor="middle">0.5</text>
<text x="535.19" y="899.5" class="tl" text-anchor="middle">0.6</text>
<text x="561.38" y="899.5" class="tl" text-anchor="middle">0.7</text>
<text x="587.56" y="899.5" class="tl" text-anchor="middle">0.8</text>
<text x="613.74" y="899.5" class="tl" text-anchor="middle">0.9</text>
<text x="370.5" y="711.8" class="tl" text-anchor="end">2</text>
<text x="370.5" y="733.99" class="tl" text-anchor="end">1.5</text>
<text x="370.5" y="756.18" class="tl" text-anchor="end">1</text>
<text x="370.5" y="778.36" class="tl" text-anchor="end">0.5</text>
<text x="370.5" y="800.55" class="tl" text-anchor="end">0</text>
<text x="370.5" y="822.74" class="tl" text-anchor="end">-0.5</text>
<text x="370.5" y="844.93" class="tl" text-anchor="end">-1</text>
<text x="370.5" y="867.11" class="tl" text-anchor="end">-1.5</text>
<text x="370.5" y="889.3" class="tl" text-anchor="end">-2</text>
<rect x="376.5" y="707.6" width="261.3" height="177.5" class="fr"/>
<text transform="translate(378.4,751.7) scale(1,1.1)" class="an">Simulation: D,</text>
<text transform="translate(378.4,773.8) scale(1,1.1)" class="an">Fit: relxilllp_nk</text>
<text transform="translate(502.55,917.4) scale(1,1.12)" class="al sfa">a</text>
<circle cx="510.45" cy="914.8" r="1.25" fill="#111"/>
<text transform="translate(339.7,796.35) rotate(-90)" class="al" text-anchor="middle"><tspan font-size="13.5" class="sf">&#945;</tspan><tspan font-size="9.3" dy="3.3">13</tspan></text>
</svg>
</body></html>
